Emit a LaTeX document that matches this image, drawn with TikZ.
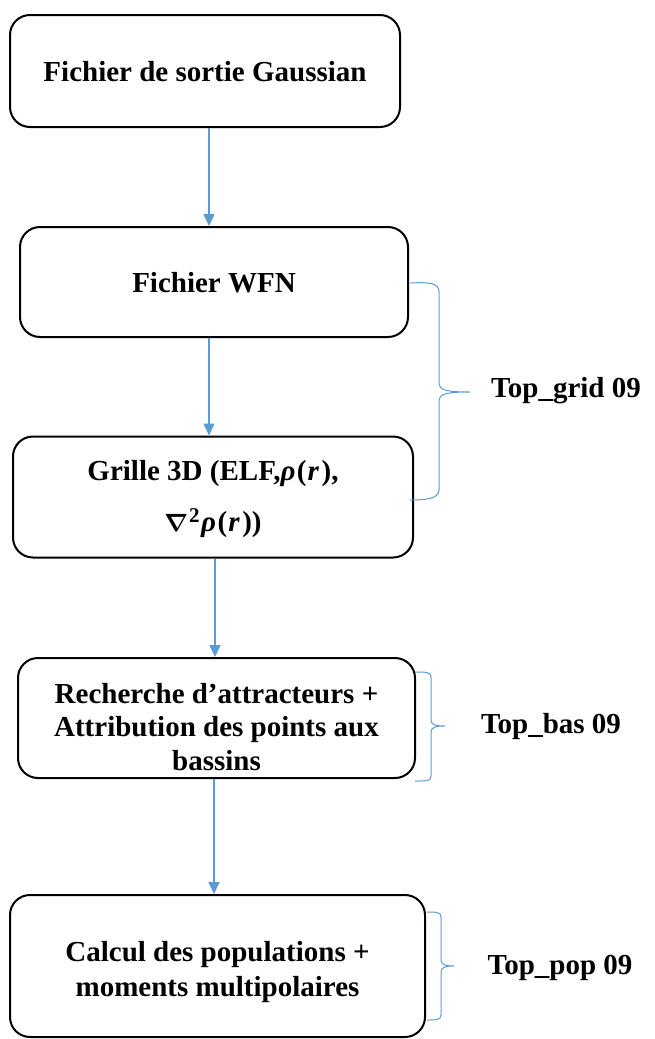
\documentclass[tikz,border=0pt]{standalone}
\usepackage{fontspec}
\usepackage{amsmath}
\usepackage{bm}
\setmainfont{Liberation Serif}
\usetikzlibrary{arrows.meta,calc}
\definecolor{flowblue}{HTML}{5B9BD5}
\tikzset{
  stepbox/.style={draw=black, line width=2pt, rounded corners=20pt, inner sep=0pt},
  steptext/.style={align=center, inner sep=0pt,
    font=\fontsize{29}{33.5}\selectfont\bfseries},
  flow/.style={draw=flowblue, line width=1.6pt, -{Triangle[length=12pt,width=11pt]}},
  brace/.style={draw=flowblue, line width=1pt},
  bracelabel/.style={font=\fontsize{29}{33}\selectfont\bfseries, inner sep=0pt}
}
% bold italic rho of r, set in the text face with math-like spacing
\newcommand{\rhoofr}{{\itshape ρ}\kern1.5pt(\kern1pt\textit{r}\kern2.5pt)}
\newcommand{\lapl}{{\fontsize{33}{33}\selectfont$\bm{\nabla}$}\kern1pt\raisebox{9pt}{\fontsize{21}{21}\selectfont 2}\kern1.5pt}
\begin{document}
\begin{tikzpicture}[x=1pt, y=-1pt]
  \useasboundingbox (0,0) rectangle (655,1039);

  % process steps
  \node[stepbox, minimum width=390pt, minimum height=112pt] (b1) at (205,71) {};
  \node[steptext] (t1) at ($(b1.center)+(0,1)$) {Fichier de sortie Gaussian};

  \node[stepbox, minimum width=388pt, minimum height=110pt] (b2) at (214,282) {};
  \node[steptext] (t2) at ($(b2.center)+(0,1)$) {Fichier WFN};

  \node[stepbox, minimum width=400pt, minimum height=121pt] (b3) at (213,497) {};
  \node[steptext, font=\fontsize{29}{51}\selectfont\bfseries] (t3)
    at ($(b3.center)+(0,2)$)
    {Grille 3D (ELF,\rhoofr,\\ \lapl\rhoofr)};

  \node[stepbox, minimum width=397pt, minimum height=120pt] (b4) at (216.5,718) {};
  \node[steptext] (t4) at ($(b4.center)+(0,9)$)
    {Recherche d’attracteurs +\\ Attribution des points aux\\ bassins};

  \node[stepbox, minimum width=415pt, minimum height=142pt] (b5) at (217.5,966) {};
  \node[steptext, font=\fontsize{29}{35}\selectfont\bfseries] (t5)
    at ($(b5.center)+(0,6)$)
    {Calcul des populations +\\ moments multipolaires};

  % arrow columns
  \coordinate (a1) at (209,0);
  \coordinate (a2) at (209,0);
  \coordinate (a3) at (215,0);
  \coordinate (a4) at (214,0);

  \draw[flow] (b1.south -| a1) -- (b2.north -| a1);
  \draw[flow] (b2.south -| a2) -- (b3.north -| a2);
  \draw[flow] (b3.south -| a3) -- (b4.north -| a3);
  \draw[flow] (b4.south -| a4) -- (b5.north -| a4);

  % braces grouping the steps of each program
  \coordinate (g0) at (410,283);
  \coordinate (g1) at (410,500);
  \coordinate (gt) at (470,392);
  \draw[brace] (g0) .. controls (430,282) and (439,283) .. (439,292)
    -- (439,382) .. controls (439,390) and (445,392) .. (gt)
    .. controls (445,392) and (439,394) .. (439,402)
    -- (439,490) .. controls (439,499) and (425,500) .. (g1);
  \node[bracelabel] (lg) at (566,391) {Top\_grid 09};

  \coordinate (s0) at (415,672);
  \coordinate (s1) at (415,781);
  \coordinate (st) at (445,726);
  \draw[brace] (s0) .. controls (426,672) and (431,672) .. (431,677)
    -- (431,720) .. controls (431,725) and (436,726) .. (st)
    .. controls (436,726) and (431,727) .. (431,732)
    -- (431,776) .. controls (431,781) and (426,781) .. (s1);
  \node[bracelabel] (lb) at (551,727) {Top\_bas 09};

  \coordinate (p0) at (427,912);
  \coordinate (p1) at (427,1020);
  \coordinate (pt) at (454,966);
  \draw[brace] (p0) .. controls (436,912) and (441,912) .. (441,917)
    -- (441,960) .. controls (441,965) and (446,966) .. (pt)
    .. controls (446,966) and (441,967) .. (441,972)
    -- (441,1015) .. controls (441,1020) and (436,1020) .. (p1);
  \node[bracelabel] (lp) at (560,968) {Top\_pop 09};
\end{tikzpicture}
\end{document}
